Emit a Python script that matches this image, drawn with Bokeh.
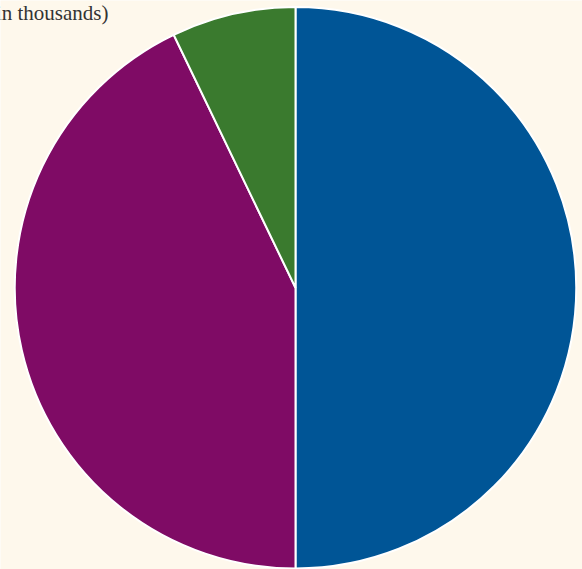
import numpy as np
from bokeh.plotting import figure
from bokeh.models import ColumnDataSource, Range1d
from bokeh.core.properties import value
from bokeh.embed import file_html
from bokeh.resources import INLINE

# Data
categories = ["Category A", "Category B", "Category C"]
values = [7, 6, 1]
colors = ["#005596", "#7f0b65", "#3a7a2e"]
title_text = "(in thousands)"

BG = "#fef8ec"
W, H = 582, 569
cx, cy = 295, 287.25  # canvas px position of pie centre
R = 280.75

vals = np.array(values, dtype=float)
frac = vals / vals.sum()
cum = np.concatenate([[0], np.cumsum(frac)])
start = np.pi / 2 - cum[:-1] * 2 * np.pi
end = np.pi / 2 - cum[1:] * 2 * np.pi

src = ColumnDataSource(dict(cat=categories, val=values, color=colors,
                            start=start, end=end))

p = figure(width=W, height=H, output_backend="svg", toolbar_location=None,
           x_range=Range1d(-cx, W - cx), y_range=Range1d(-(H - cy), cy),
           min_border=0)
p.axis.visible = False
p.grid.visible = False
p.outline_line_color = None
p.background_fill_color = BG
p.border_fill_color = BG

p.wedge(x=0, y=0, radius=R, start_angle="start", end_angle="end",
        direction="clock", fill_color="color", line_color="white",
        line_width=2, source=src)

p.text(x=[108 - cx], y=[cy - 12], text=[title_text],
       text_font=value("Liberation Serif"), text_font_size="21px",
       text_color="#333333", text_align="right", text_baseline="alphabetic")

html = file_html(p, INLINE)
html = html.replace("<body>", '<body style="background:%s">' % BG, 1)
open("out.html", "w").write(html)
